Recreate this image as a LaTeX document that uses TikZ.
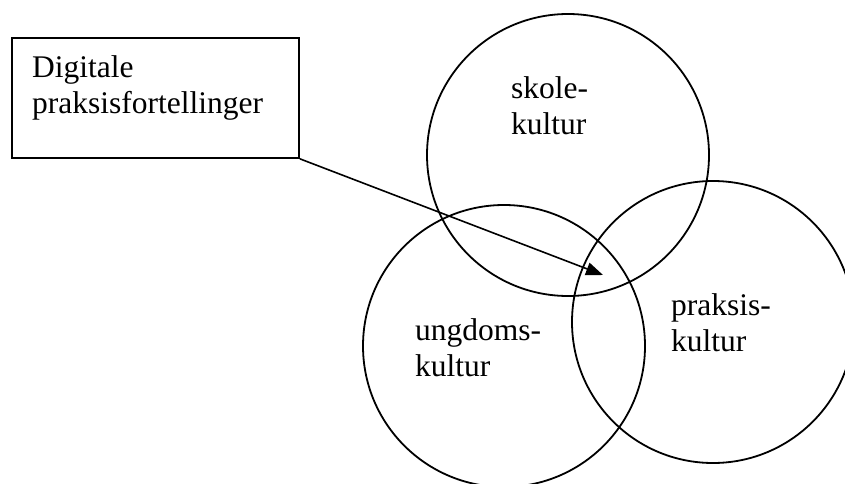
\documentclass[tikz,border=0pt]{standalone}
\usepackage{fontspec}
\setmainfont{Liberation Serif}
\usetikzlibrary{arrows.meta}
\begin{document}
\begin{tikzpicture}[x=1pt,y=-1pt,
  ring/.style={draw,line width=1.8pt,circle,minimum size=282pt,inner sep=0pt},
  lbl/.style={anchor=base west,inner sep=0pt,align=left,font=\fontsize{31.5}{36}\selectfont},
  textbox/.style={draw,line width=1.8pt,minimum width=287pt,minimum height=120pt,anchor=north west,inner sep=0pt},
  conn/.style={line width=1.6pt,-{Triangle[length=17pt,width=13pt]}}]
\useasboundingbox (0,0) rectangle (845,484);
\node[ring] (skole) at (568,155) {};
\node[ring] (ungdom) at (504,346) {};
\node[ring] (praksis) at (713,322) {};
\node[textbox] (box) at (11,37) {};
\node[lbl] (boxtxt) at (32,113.5) {Digitale\\praksisfortellinger};
\node[lbl] (skoletxt) at (511,135) {skole-\\kultur};
\node[lbl] (ungdomtxt) at (415,376.5) {ungdoms-\\kultur};
\node[lbl] (praksistxt) at (671,351.5) {praksis-\\kultur};
\coordinate (tip) at (603,275);
\draw[conn] (box.south east) -- (tip);
\end{tikzpicture}
\end{document}
